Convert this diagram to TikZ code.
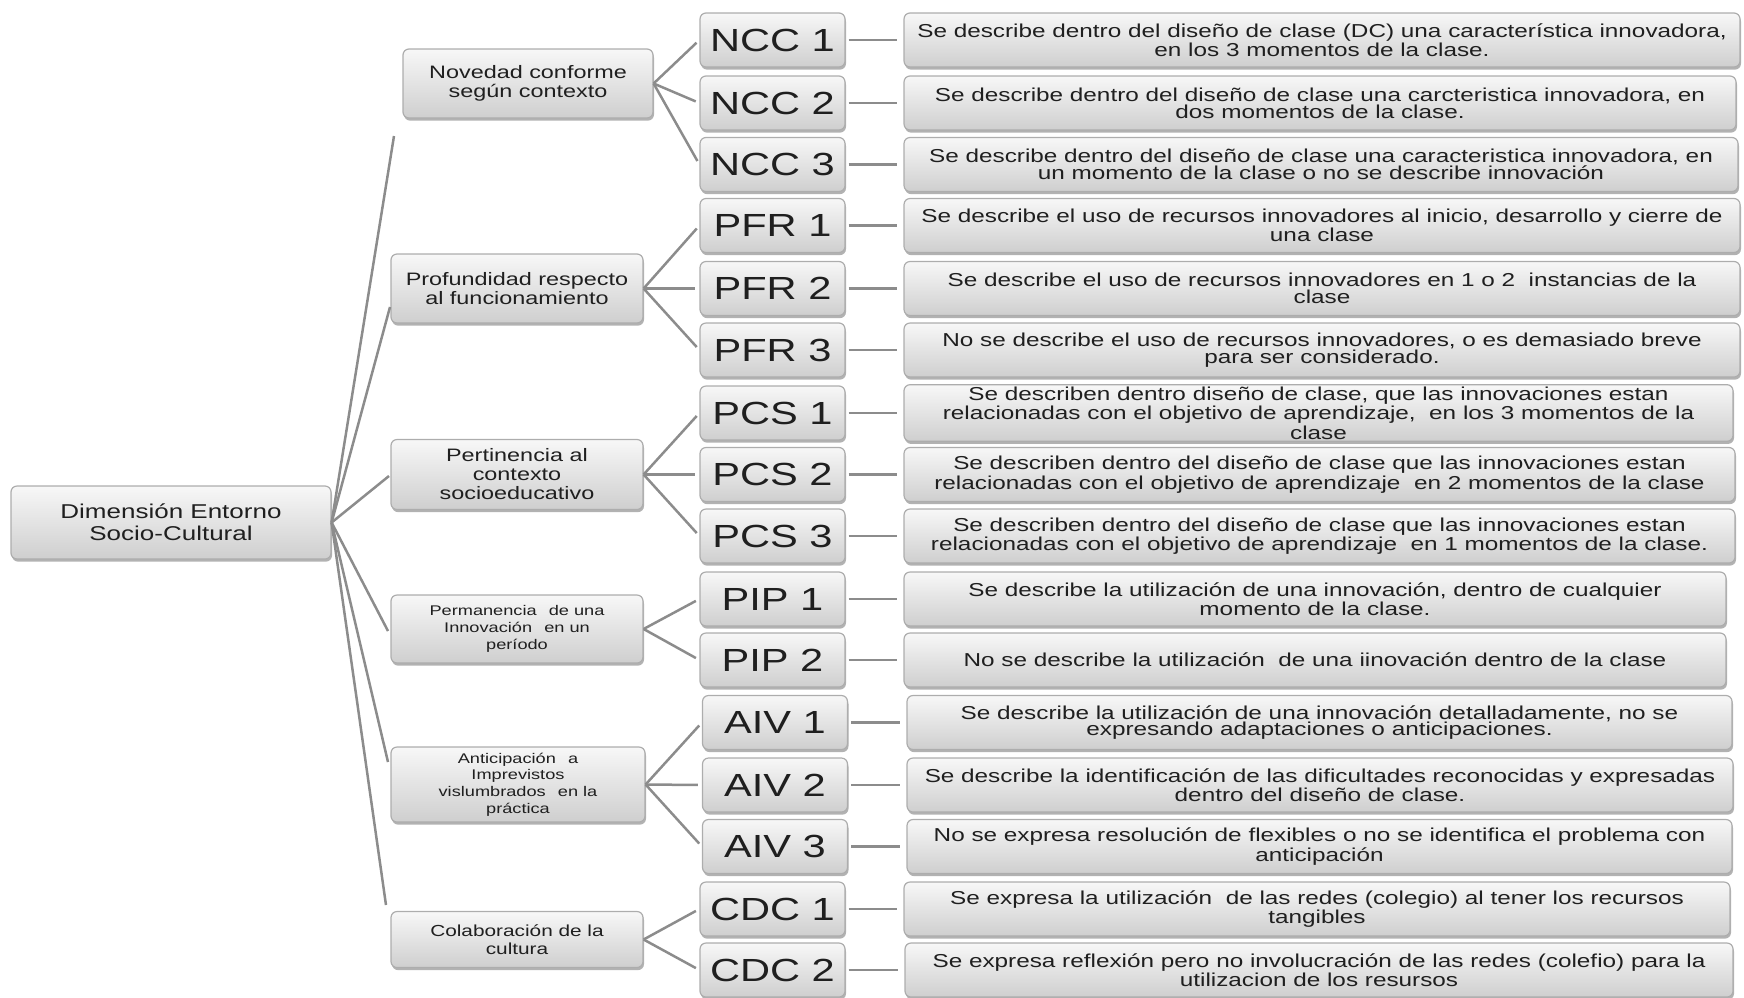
\documentclass[tikz,border=0pt]{standalone}
\usepackage{fontspec}
\setmainfont{Liberation Sans}[FakeStretch=1.3]
\usetikzlibrary{shadows,calc}
\begin{document}
\begin{tikzpicture}[x=0.5pt,y=-0.5pt,
  box/.style={draw=black!32, line width=0.6pt, rounded corners=3pt,
    top color=black!3, bottom color=black!19, text=black!88, align=center, inner sep=1pt,
    drop shadow={shadow xshift=0.5pt, shadow yshift=-1.3pt, fill=black, opacity=0.3}},
  rootbox/.style={box, font=\fontsize{10}{11}\selectfont},
  lvl/.style={box, font=\fontsize{9}{9.5}\selectfont},
  lvlsmall/.style={box, font=\fontsize{7}{8.4}\selectfont},
  code/.style={box, minimum width=72.5pt, minimum height=27pt, font=\fontsize{16}{16}\selectfont},
  desc/.style={box, minimum height=27pt, font=\fontsize{9.35}{8.35}\selectfont},
  con/.style={draw=black!45, line width=1.25pt},
]
\useasboundingbox (0,0) rectangle (1744,997);

% root
\node[rootbox, minimum width=160pt, minimum height=36.5pt] (root) at (171,522.5) {Dimensión Entorno\\Socio-Cultural};

% level 1
\node[lvl, minimum width=125pt, minimum height=34.5pt] (nov) at (528,83.5) {Novedad conforme\\según contexto};
\node[lvl, minimum width=126pt, minimum height=34.5pt] (pfr) at (517,288.5) {Profundidad respecto\\al funcionamiento};
\node[lvl, minimum width=126pt, minimum height=35pt] (pcs) at (517,474.5) {Pertinencia al\\contexto\\socioeducativo};
\node[lvlsmall, minimum width=126pt, minimum height=34pt] (pip) at (517,629) {Permanencia\enspace\ de una\\Innovación\enspace\ en un\\período};
\node[lvlsmall, minimum width=127pt, minimum height=37.5pt] (aiv) at (518,784.5) {Anticipación\enspace\ a\\Imprevistos\\vislumbrados\enspace\ en la\\práctica};
\node[lvl, font=\fontsize{8}{8.9}\selectfont, minimum width=126pt, minimum height=28pt] (cdc) at (517,939.5) {Colaboración de la\\cultura};

% codes
\node[code] (c1) at (772.5,40) {NCC 1};
\node[code] (c2) at (772.5,103) {NCC 2};
\node[code] (c3) at (772.5,164.5) {NCC 3};
\node[code] (p1) at (772.5,225.5) {PFR 1};
\node[code] (p2) at (772.5,288.5) {PFR 2};
\node[code] (p3) at (772.5,350) {PFR 3};
\node[code] (s1) at (772.5,413) {PCS 1};
\node[code] (s2) at (772.5,474.5) {PCS 2};
\node[code] (s3) at (772.5,536) {PCS 3};
\node[code] (i1) at (772.5,599) {PIP 1};
\node[code] (i2) at (772.5,660) {PIP 2};
\node[code] (a1) at (775,722.5) {AIV 1};
\node[code] (a2) at (775,785) {AIV 2};
\node[code] (a3) at (775,846.5) {AIV 3};
\node[code] (d1) at (772.5,909) {CDC 1};
\node[code] (d2) at (772.5,970) {CDC 2};

% descriptions
\node[desc, minimum width=418pt] (c1d) at (1322,40) {Se describe dentro del diseño de clase (DC) una característica innovadora,\\en los 3 momentos de la clase.};
\node[desc, minimum width=416pt] (c2d) at (1320,103) {Se describe dentro del diseño de clase una carcteristica innovadora, en\\dos momentos de la clase.};
\node[desc, minimum width=417pt] (c3d) at (1321,164.5) {Se describe dentro del diseño de clase una caracteristica innovadora, en\\un momento de la clase o no se describe innovación};
\node[desc, minimum width=418pt] (p1d) at (1322,225.5) {Se describe el uso de recursos innovadores al inicio, desarrollo y cierre de\\una clase};
\node[desc, minimum width=418pt] (p2d) at (1322,288.5) {Se describe el uso de recursos innovadores en 1 o 2\ \ instancias de la\\clase};
\node[desc, minimum width=418pt] (p3d) at (1322,350) {No se describe el uso de recursos innovadores, o es demasiado breve\\para ser considerado.};
\node[desc, minimum width=414.5pt] (s1d) at (1318.5,413) {Se describen dentro diseño de clase, que las innovaciones estan\\relacionadas con el objetivo de aprendizaje,\ \ en los 3 momentos de la\\clase};
\node[desc, minimum width=415.5pt] (s2d) at (1319.5,474.5) {Se describen dentro del diseño de clase que las innovaciones estan\\relacionadas con el objetivo de aprendizaje\ \ en 2 momentos de la clase};
\node[desc, minimum width=415.5pt] (s3d) at (1319.5,536) {Se describen dentro del diseño de clase que las innovaciones estan\\relacionadas con el objetivo de aprendizaje\ \ en 1 momentos de la clase.};
\node[desc, minimum width=411pt] (i1d) at (1315,599) {Se describe la utilización de una innovación, dentro de cualquier\\momento de la clase.};
\node[desc, minimum width=411pt] (i2d) at (1315,660) {No se describe la utilización\ \ de una iinovación dentro de la clase};
\node[desc, minimum width=412.5pt] (a1d) at (1319.5,722.5) {Se describe la utilización de una innovación detalladamente, no se\\expresando adaptaciones o anticipaciones.};
\node[desc, minimum width=413pt] (a2d) at (1320,785) {Se describe la identificación de las dificultades reconocidas y expresadas\\dentro del diseño de clase.};
\node[desc, minimum width=412.5pt] (a3d) at (1319.5,846.5) {No se expresa resolución de flexibles o no se identifica el problema con\\anticipación};
\node[desc, minimum width=413pt] (d1d) at (1317,909) {Se expresa la utilización\ \ de las redes (colegio) al tener los recursos\\tangibles};
\node[desc, minimum width=414pt] (d2d) at (1319,970) {Se expresa reflexión pero no involucración de las redes (colefio) para la\\utilizacion de los resursos};

% free ends of root connectors
\coordinate (t1) at (394,136);
\coordinate (t2) at (390,307);
\coordinate (t3) at (389,476);
\coordinate (t4) at (388,631);
\coordinate (t5) at (388,762);
\coordinate (t6) at (386,905);
\foreach \t in {t1,t2,t3,t4,t5,t6} \draw[con] (root.east) -- (\t);

% level 1 to codes
\foreach \a/\b in {nov/c1,nov/c2,nov/c3,pfr/p1,pfr/p2,pfr/p3,pcs/s1,pcs/s2,pcs/s3,pip/i1,pip/i2,aiv/a1,aiv/a2,aiv/a3,cdc/d1,cdc/d2}
  \draw[con, shorten >=2pt] (\a.east) -- (\b.west);

% codes to descriptions
\foreach \b in {c1,c2,c3,p1,p2,p3,s1,s2,s3,i1,i2,a1,a2,a3,d1,d2}
  \draw[con, shorten <=1.5pt, shorten >=3pt] (\b.east) -- (\b d.west);
\end{tikzpicture}
\end{document}
